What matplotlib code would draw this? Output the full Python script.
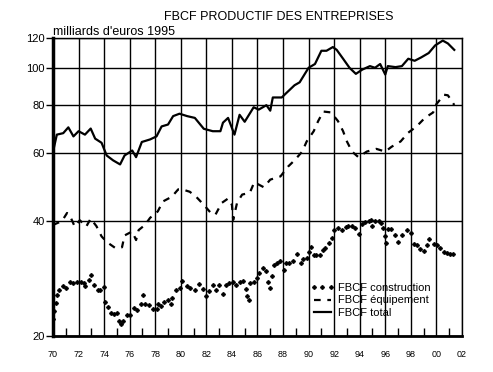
import matplotlib
matplotlib.use('Agg')
import matplotlib.pyplot as plt
from matplotlib.ticker import FixedLocator, NullLocator

plt.rcParams['font.family'] = ['Liberation Sans', 'DejaVu Sans']

# FBCF total (milliards d'euros 1995)
total_years = [1970.0, 1970.3, 1970.8, 1971.2, 1971.6, 1972.0, 1972.5, 1972.95, 1973.3, 1973.8,
               1974.2, 1974.7, 1975.25, 1975.6, 1976.2, 1976.5, 1976.95, 1977.6, 1978.1, 1978.5,
               1979.0, 1979.4, 1979.9, 1980.5, 1981.1, 1981.8, 1982.5, 1983.1, 1983.3, 1983.7,
               1984.2, 1984.6, 1985.0, 1985.7, 1986.1, 1986.7, 1987.0, 1987.2, 1987.9, 1988.2,
               1988.9, 1989.3, 1990.0, 1990.5, 1991.0, 1991.4, 1991.9, 1992.2, 1992.7, 1993.2,
               1993.7, 1994.2, 1994.8, 1995.2, 1995.6, 1996.0, 1996.2, 1996.8, 1997.3, 1997.8,
               1998.3, 1998.8, 1999.4, 1999.9, 2000.5, 2000.9, 2001.4]
total_vals = [60.5, 67.1, 67.7, 70.1, 66.4, 68.5, 67.1, 69.6, 65.5, 63.9,
              59.2, 57.5, 56.1, 59.2, 61.0, 58.6, 64.2, 65.2, 66.4, 70.5,
              71.3, 75.0, 76.1, 75.0, 74.2, 69.5, 68.5, 68.5, 72.1, 74.2,
              67.1, 75.6, 72.5, 79.1, 78.0, 80.1, 77.5, 83.9, 83.9, 85.8,
              90.3, 91.9, 100.3, 102.6, 111.1, 111.1, 113.6, 111.7, 105.9, 100.3,
              96.7, 99.2, 101.3, 100.3, 102.6, 96.3, 101.3, 100.7, 101.3, 105.9,
              104.6, 106.7, 109.6, 114.7, 118.1, 116.1, 111.7]

# FBCF equipement
equip_years = [1970.0, 1970.7, 1971.1, 1971.3, 1971.7, 1972.1, 1972.6, 1972.95, 1973.4, 1973.8,
               1974.2, 1974.9, 1975.4, 1975.6, 1976.2, 1976.5, 1976.7, 1977.2, 1977.6, 1978.2,
               1978.6, 1979.3, 1979.8, 1980.1, 1980.7, 1981.2, 1981.8, 1982.3, 1982.7, 1983.2,
               1983.7, 1984.0, 1984.1, 1984.4, 1984.8, 1985.4, 1985.75, 1986.5, 1987.0, 1987.8,
               1988.4, 1988.9, 1989.5, 1989.85, 1990.4, 1990.75, 1991.15, 1991.75, 1992.3, 1992.7,
               1993.0, 1993.4, 1993.9, 1994.55, 1995.3, 1996.0, 1996.5, 1997.2, 1997.8, 1998.45,
               1999.1, 1999.75, 2000.0, 2000.6, 2000.9, 2001.4]
equip_vals = [39.0, 39.9, 41.9, 41.4, 38.6, 40.1, 38.6, 40.5, 38.7, 36.4,
              35.2, 33.9, 34.1, 36.6, 37.5, 35.6, 37.8, 39.0, 40.7, 42.3,
              44.9, 46.2, 48.3, 48.3, 47.6, 46.2, 44.0, 42.1, 41.4, 44.5,
              45.7, 44.0, 40.2, 44.5, 46.8, 47.3, 50.4, 48.9, 51.2, 52.2,
              55.4, 57.5, 60.6, 64.4, 68.5, 72.8, 77.1, 76.7, 72.8, 68.5,
              64.4, 60.6, 58.6, 60.6, 61.6, 60.6, 62.4, 64.4, 67.9, 70.5,
              74.2, 76.7, 80.6, 85.3, 85.0, 80.2]

# FBCF construction
constr_years = [1970.0, 1970.1, 1970.2, 1970.3, 1970.5, 1970.75, 1971.0, 1971.3, 1971.6, 1971.85,
                1972.2, 1972.4, 1972.5, 1972.8, 1973.0, 1973.2, 1973.5, 1973.7, 1974.0, 1974.1,
                1974.3, 1974.5, 1974.75, 1975.0, 1975.2, 1975.3, 1975.5, 1975.8, 1976.0, 1976.3,
                1976.6, 1976.9, 1977.05, 1977.2, 1977.5, 1977.8, 1978.1, 1978.2, 1978.45, 1978.7,
                1979.0, 1979.2, 1979.35, 1979.6, 1979.9, 1980.1, 1980.5, 1980.75, 1981.1, 1981.4,
                1981.7, 1982.0, 1982.2, 1982.5, 1982.75, 1983.0, 1983.3, 1983.55, 1983.8, 1984.1,
                1984.3, 1984.6, 1984.9, 1985.1, 1985.2, 1985.3, 1985.45, 1985.7, 1985.95, 1986.1,
                1986.4, 1986.7, 1986.8, 1987.0, 1987.1, 1987.3, 1987.55, 1987.8, 1988.1, 1988.25,
                1988.5, 1988.8, 1989.1, 1989.4, 1989.6, 1989.85, 1990.05, 1990.2, 1990.4, 1990.6,
                1990.9, 1991.1, 1991.3, 1991.6, 1991.85, 1992.0, 1992.3, 1992.6, 1992.9, 1993.1,
                1993.4, 1993.6, 1993.95, 1994.15, 1994.45, 1994.7, 1994.85, 1995.0, 1995.2, 1995.5,
                1995.7, 1995.85, 1996.0, 1996.05, 1996.25, 1996.45, 1996.75, 1997.0, 1997.3, 1997.7,
                1998.0, 1998.25, 1998.5, 1998.75, 1999.0, 1999.3, 1999.45, 1999.8, 2000.05, 2000.3,
                2000.6, 2000.85, 2001.1, 2001.3]
constr_vals = [22.2, 23.3, 24.4, 25.6, 26.4, 27.0, 26.7, 27.6, 27.5, 27.7,
               27.7, 27.5, 27.0, 28.0, 28.9, 27.2, 26.3, 26.4, 26.8, 24.6,
               23.8, 23.0, 22.8, 23.0, 21.9, 21.5, 21.9, 22.7, 22.7, 23.6,
               23.4, 24.3, 25.6, 24.3, 24.1, 23.5, 23.5, 24.3, 24.0, 24.5,
               24.9, 24.2, 25.2, 26.4, 26.7, 27.9, 27.0, 26.7, 26.3, 27.3,
               26.5, 25.4, 26.2, 27.2, 26.4, 27.2, 25.8, 27.2, 27.5, 27.7,
               27.2, 27.7, 27.8, 26.5, 25.4, 24.8, 27.5, 27.7, 28.3, 29.2,
               30.1, 29.5, 27.6, 26.7, 28.6, 30.7, 31.1, 31.3, 29.7, 31.0,
               31.1, 31.3, 32.7, 31.1, 31.8, 32.0, 33.2, 34.2, 32.5, 32.5,
               32.5, 33.5, 33.9, 34.9, 36.1, 37.9, 38.3, 37.9, 38.6, 38.7,
               38.7, 38.3, 37.0, 39.3, 39.8, 40.0, 40.1, 38.7, 40.0, 40.0,
               39.5, 38.2, 36.5, 35.0, 38.0, 38.0, 36.7, 35.1, 36.7, 37.9,
               37.2, 34.8, 34.6, 33.7, 33.4, 34.6, 35.9, 34.8, 34.6, 33.9,
               33.2, 32.9, 32.7, 32.7]

y_ticks = [20, 40, 60, 80, 100, 120]
x_major = list(range(1970, 2003, 2))
x_minor = list(range(1971, 2002, 2))
x_labels = ['%02d' % (y % 100) for y in x_major]

fig = plt.figure(figsize=(4.93, 3.72), dpi=100)
ax = fig.add_axes([0.1075, 0.0968, 0.8295, 0.8012])

ax.plot(constr_years, constr_vals, linestyle='none', marker='P', markersize=2.4,
        color='black', label='FBCF construction')
ax.plot(equip_years, equip_vals, color='black', lw=1.6, dashes=(3, 3),
        label='FBCF \u00e9quipement')
ax.plot(total_years, total_vals, color='black', lw=1.6, label='FBCF total')

ax.set_yscale('log')
ax.set_ylim(20, 120)
ax.set_xlim(1970, 2002)
ax.yaxis.set_major_locator(FixedLocator(y_ticks))
ax.yaxis.set_minor_locator(NullLocator())
ax.set_yticklabels([str(v) for v in y_ticks], fontsize=8)
ax.set_xticks(x_major)
ax.set_xticklabels(x_labels, fontsize=6.5)
ax.set_xticks(x_minor, minor=True)
ax.tick_params(axis='x', which='major', direction='in', length=0, pad=10)
ax.tick_params(axis='x', which='minor', direction='in', length=6, width=1)
ax.tick_params(axis='y', which='major', direction='out', length=5, width=1, pad=1)
ax.grid(True, which='major', color='black', lw=1)

ax.spines['left'].set_linewidth(2.5)
ax.spines['bottom'].set_linewidth(2)
ax.spines['top'].set_linewidth(1)
ax.spines['right'].set_linewidth(1)

fig.text(0.565, 0.955, 'FBCF PRODUCTIF DES ENTREPRISES', ha='center', va='center', fontsize=9)
fig.text(0.107, 0.915, "milliards d'euros 1995", ha='left', va='center', fontsize=9)

ax.legend(loc='upper left', bbox_to_anchor=(0.61, 0.205), frameon=False, fontsize=8,
          handlelength=2.2, handletextpad=0.3, labelspacing=0.25, borderpad=0.2,
          numpoints=3)

fig.savefig('out.png', dpi=100)
